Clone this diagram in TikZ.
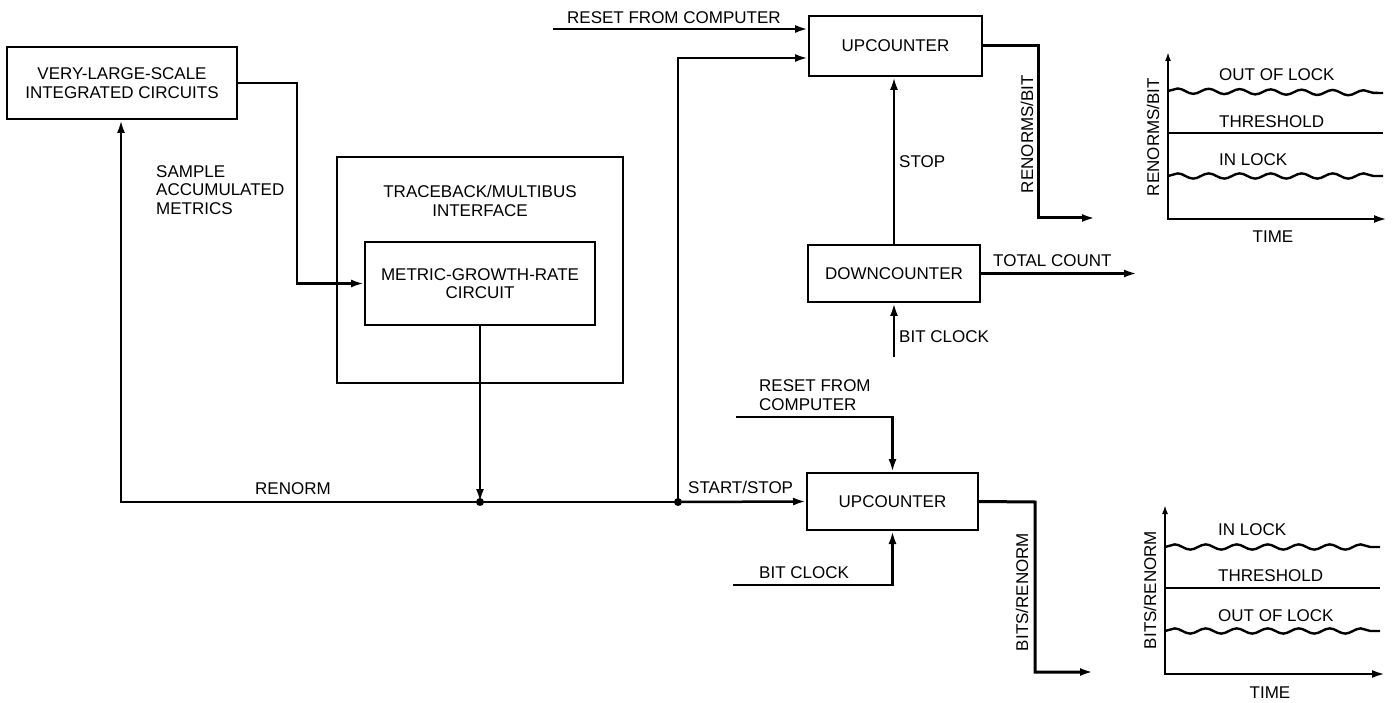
\documentclass[tikz,border=0pt]{standalone}
\usepackage{fontspec}
\setmainfont{Liberation Sans}
\usetikzlibrary{arrows.meta,decorations.pathmorphing}
\begin{document}
\begin{tikzpicture}[x=1pt,y=-1pt,
  every node/.style={font=\fontsize{17}{18.5}\selectfont},
  blk/.style={draw,line width=2pt,inner sep=0pt,align=center},
  lbl/.style={inner sep=0pt,align=left},
  con/.style={line width=2.5pt},
  arr/.style={con,-{Latex[length=13pt,width=8pt]}},
  outl/.style={line width=3pt,-{Latex[length=13pt,width=8pt]}},
  wave/.style={line width=2.4pt,decorate,decoration={snake,segment length=31pt,amplitude=2.6pt}},
  dot/.style={circle,fill,inner sep=0pt,minimum size=8pt}]
\useasboundingbox (0,0) rectangle (1398,703);

% blocks
\node[blk,minimum width=230pt,minimum height=72pt] (vlsi) at (122,83) {VERY-LARGE-SCALE\\INTEGRATED CIRCUITS};
\node[blk,minimum width=286pt,minimum height=226pt] (trace) at (480,270) {};
\node[lbl,align=center] (tracet) at (480,201) {TRACEBACK/MULTIBUS\\INTERFACE};
\node[blk,minimum width=230pt,minimum height=83pt] (mgr) at (480,283.5) {METRIC-GROWTH-RATE\\CIRCUIT};
\node[blk,minimum width=173pt,minimum height=60pt] (up1) at (895.5,46) {UPCOUNTER};
\node[blk,minimum width=172pt,minimum height=57pt] (down) at (894,273.5) {DOWNCOUNTER};
\node[blk,minimum width=171pt,minimum height=57pt] (up2) at (892.5,501.5) {UPCOUNTER};

% coordinates
\coordinate (j1) at (480,502);
\coordinate (j2) at (678,502);
\coordinate (busL) at (121,502);
\coordinate (smp) at (297,83);
\coordinate (r1s) at (553,29);
\coordinate (o1) at (1038,46);
\coordinate (o1e) at (1095,218);
\coordinate (tc) at (1137,273.5);
\coordinate (bc1) at (894,357);
\coordinate (r2s) at (736,417);
\coordinate (bc2) at (733,585);
\coordinate (o2) at (1035,502);
\coordinate (o2e) at (1093,672);

% connectors
\draw[arr] (vlsi.east) -- (smp) |- (mgr.west);
\draw[arr] (mgr.south) -- (j1);
\draw[arr] (j1) -- (busL) -- (busL |- vlsi.south);
\draw[con] (j1) -- (j2);
\draw[arr] (j2) -- (up2.west);
\draw[arr] (j2) |- ([yshift=-12pt]up1.west);
\draw[arr] (r1s) -- ([yshift=17pt]up1.west);
\draw[arr] (down.north) -- (down.north |- up1.south);
\draw[outl] (up1.east) -- (o1) |- (o1e);
\draw[outl] (down.east) -- (tc);
\draw[arr] (bc1) -- (bc1 |- down.south);
\draw[arr] (r2s) -| (up2.north);
\draw[arr] (bc2) -| (up2.south);
\draw[outl] (up2.east) -- (o2) |- (o2e);
\node[dot] (d1) at (j1) {};
\node[dot] (d2) at (j2) {};

% labels
\node[lbl,anchor=west] (lsample) at (156,190) {SAMPLE\\ACCUMULATED\\METRICS};
\node[lbl] (lrenorm) at (293,489) {RENORM};
\node[lbl,anchor=west] (lreset1) at (567,18) {RESET FROM COMPUTER};
\node[lbl,anchor=west] (lstop) at (899,162) {STOP};
\node[lbl,anchor=west] (ltotal) at (993,261) {TOTAL COUNT};
\node[lbl,anchor=west] (lbc1) at (899,337) {BIT CLOCK};
\node[lbl,anchor=west] (lreset2) at (759,395) {RESET FROM\\COMPUTER};
\node[lbl,anchor=west] (lss) at (688,487) {START/STOP};
\node[lbl,anchor=west] (lbc2) at (759,573) {BIT CLOCK};
\node[lbl,rotate=90] (lrpb) at (1027,134) {RENORMS/BIT};
\node[lbl,rotate=90] (lbpr) at (1022,592) {BITS/RENORM};

% top graph
\draw[line width=2.4pt,{Latex[length=9pt,width=6pt]}-{Latex[length=13pt,width=8pt]}] (1168,52) -- (1168,219) -- (1387,219);
\draw[wave] (1168,91) -- (1383,93);
\draw[line width=2.4pt] (1168,133) -- (1383,133);
\draw[wave] (1168,176) -- (1383,176);
\node[lbl,anchor=west] (g1a) at (1219,75) {OUT OF LOCK};
\node[lbl,anchor=west] (g1b) at (1219,122) {THRESHOLD};
\node[lbl,anchor=west] (g1c) at (1219,160) {IN LOCK};
\node[lbl] (g1t) at (1273,237) {TIME};
\node[lbl,rotate=90] (g1y) at (1153,137) {RENORMS/BIT};

% bottom graph
\draw[line width=2.4pt,{Latex[length=9pt,width=6pt]}-{Latex[length=13pt,width=8pt]}] (1165,505) -- (1165,674) -- (1385,674);
\draw[wave] (1165,547) -- (1380,547);
\draw[line width=2.4pt] (1165,588) -- (1380,588);
\draw[wave] (1165,631) -- (1380,631);
\node[lbl,anchor=west] (g2a) at (1218,530) {IN LOCK};
\node[lbl,anchor=west] (g2b) at (1218,576) {THRESHOLD};
\node[lbl,anchor=west] (g2c) at (1218,616) {OUT OF LOCK};
\node[lbl] (g2t) at (1270,693) {TIME};
\node[lbl,rotate=90] (g2y) at (1150,590) {BITS/RENORM};
\end{tikzpicture}
\end{document}
